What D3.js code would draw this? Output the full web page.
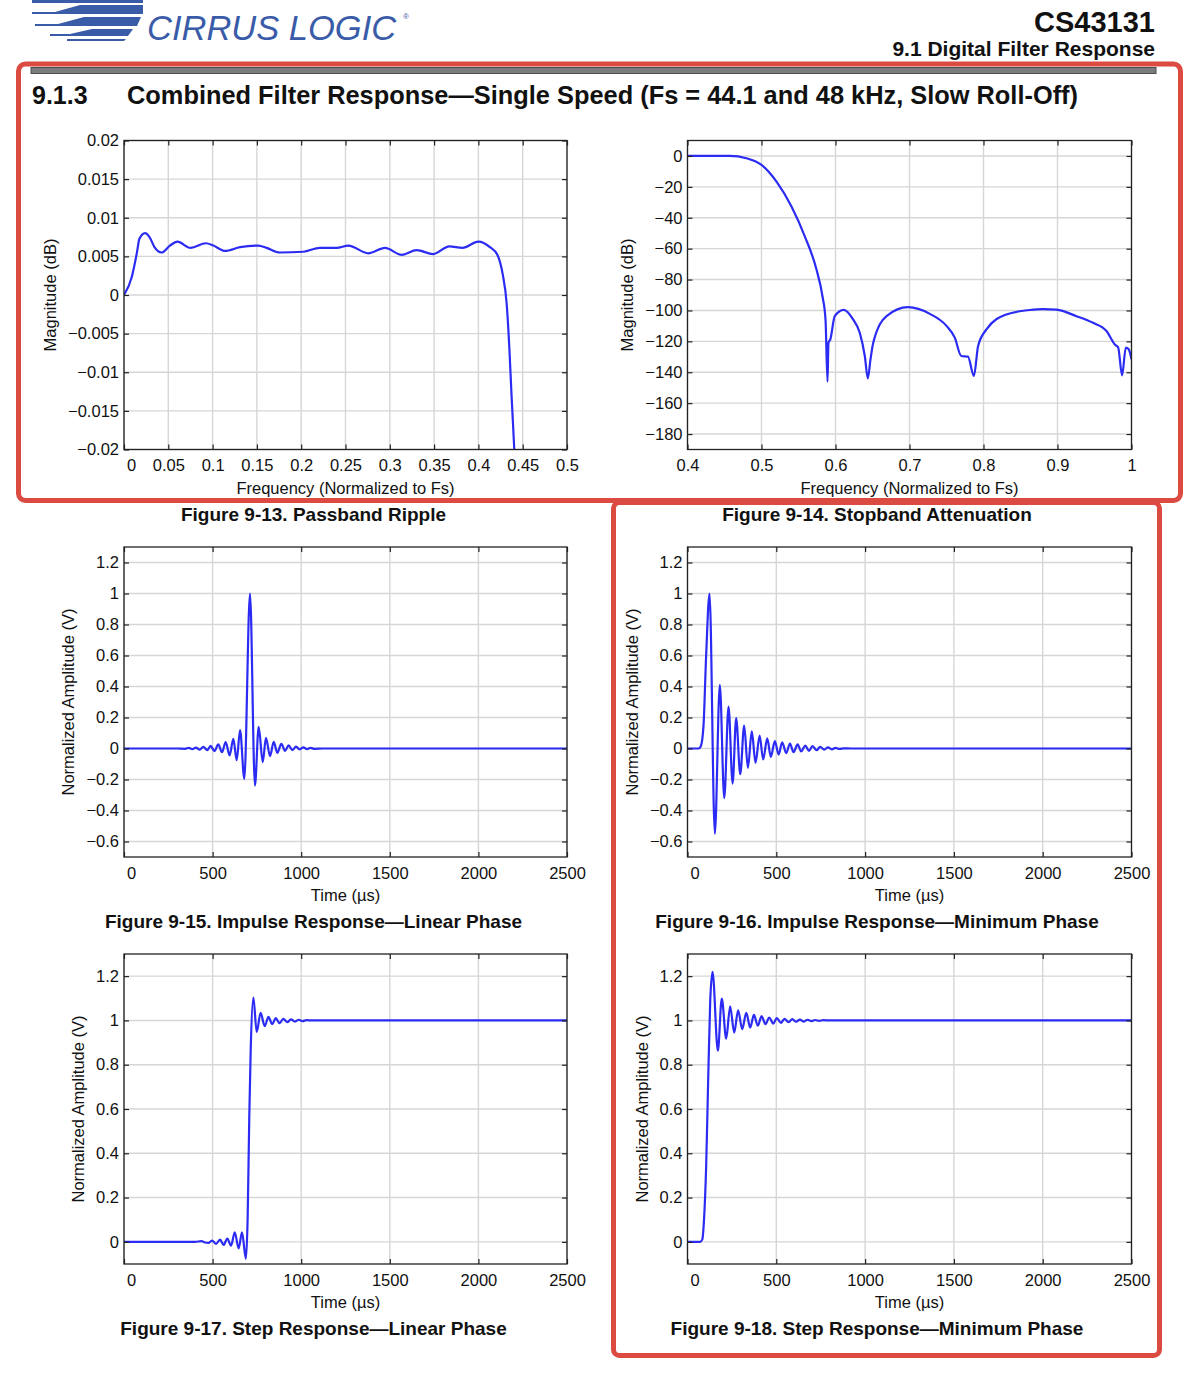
<!DOCTYPE html>
<html><head><meta charset="utf-8">
<script src="https://cdn.jsdelivr.net/npm/d3@7"></script>
<style>
html,body{margin:0;padding:0;background:#fff;}
svg{display:block;}
text{font-family:"Liberation Sans",Arial,Helvetica,sans-serif;fill:#111;}
</style></head><body>
<svg id="chart" width="1190" height="1377"></svg>
<script>
// ---------- DATA ----------
// Figure 9-13 Passband ripple
const passFreq = [0, 0.0087, 0.0143, 0.0175, 0.0237, 0.0288, 0.0344, 0.0425, 0.0519, 0.0602, 0.0752, 0.0925, 0.1008, 0.114, 0.131, 0.1516, 0.161, 0.176, 0.2024, 0.221, 0.240, 0.2532, 0.2757, 0.2946, 0.3134, 0.3303, 0.349, 0.3672, 0.382, 0.400, 0.413, 0.4214, 0.4274, 0.4319, 0.4349, 0.4375, 0.4405, 0.4420];
const passMag  = [0, 0.0023, 0.0053, 0.0073, 0.0080, 0.0075, 0.0062, 0.0055, 0.0064, 0.0069, 0.0061, 0.0067, 0.0064, 0.0057, 0.0062, 0.0064, 0.0061, 0.0055, 0.0056, 0.0061, 0.0061, 0.0064, 0.0054, 0.0061, 0.0052, 0.0058, 0.0053, 0.0063, 0.0061, 0.0069, 0.0062, 0.0052, 0.0027, -0.0011, -0.0068, -0.0132, -0.0200, -0.0240];
const passXTicks = [0, 0.05, 0.1, 0.15, 0.2, 0.25, 0.3, 0.35, 0.4, 0.45, 0.5];
const passXLabels = ["0", "0.05", "0.1", "0.15", "0.2", "0.25", "0.3", "0.35", "0.4", "0.45", "0.5"];
const passYTicks = [0.02, 0.015, 0.01, 0.005, 0, -0.005, -0.01, -0.015, -0.02];
const passYLabels = ["0.02", "0.015", "0.01", "0.005", "0", "\u22120.005", "\u22120.01", "\u22120.015", "\u22120.02"];

// Figure 9-14 Stopband attenuation
const stopFreq = [0.4, 0.43, 0.457, 0.4797, 0.5, 0.5203, 0.5405, 0.5585, 0.5743, 0.5824, 0.5865, 0.5892, 0.5905, 0.593, 0.599, 0.6112, 0.6238, 0.6328, 0.6396, 0.6437, 0.6473, 0.651, 0.669, 0.698, 0.7275, 0.75, 0.7612, 0.770, 0.779, 0.787, 0.7927, 0.804, 0.831, 0.8626, 0.88, 0.8986, 0.9257, 0.948, 0.9662, 0.9774, 0.982, 0.9873, 0.9923, 0.996, 1.0];
const stopMag  = [0, 0, 0, -1.5, -5.8, -16.6, -32.7, -52, -73.5, -90.8, -105.8, -146, -120.9, -118.7, -103.7, -99.6, -105.8, -114.4, -129.5, -144, -131.6, -120.9, -103.7, -97.9, -102.2, -110, -117.6, -129.5, -129.9, -142.4, -123, -112.3, -102.6, -99.7, -99.1, -99.5, -103.7, -108, -113.3, -122, -124, -142, -124, -125, -131.6];
const stopXTicks = [0.4, 0.5, 0.6, 0.7, 0.8, 0.9, 1];
const stopXLabels = ["0.4", "0.5", "0.6", "0.7", "0.8", "0.9", "1"];
const stopYTicks = [0, -20, -40, -60, -80, -100, -120, -140, -160, -180];
const stopYLabels = ["0", "\u221220", "\u221240", "\u221260", "\u221280", "\u2212100", "\u2212120", "\u2212140", "\u2212160", "\u2212180"];

// Figure 9-15 Impulse response, linear phase
const impLinTime = [0, 300, 345, 365, 386, 406, 427, 448, 470, 489, 510, 532, 553, 574, 596, 617, 636, 655, 679, 711, 739, 760, 783, 801, 824, 845, 865, 888, 909, 929, 950, 971, 991, 1012, 1033, 1053, 1075, 1120, 2500];
const impLinAmp  = [0, 0, -0.002, 0.004, -0.004, 0.006, -0.007, 0.01, -0.01, 0.017, -0.017, 0.026, -0.024, 0.041, -0.045, 0.062, -0.075, 0.118, -0.196, 1.0, -0.239, 0.14, -0.088, 0.069, -0.049, 0.043, -0.028, 0.03, -0.015, 0.02, -0.01, 0.012, -0.006, 0.007, -0.004, 0.004, -0.002, 0, 0];

// Figure 9-16 Impulse response, minimum phase
const impMinTime = [0, 62, 75, 90, 105, 124, 154, 182, 207, 231, 254, 274, 297, 319, 340, 362, 383, 406, 426, 449, 469, 492, 513, 533, 556, 577, 597, 620, 640, 663, 684, 704, 727, 747, 770, 791, 813, 834, 856, 880, 920, 2500];
const impMinAmp  = [0, 0, 0.015, 0.144, 0.6, 1.0, -0.55, 0.41, -0.32, 0.27, -0.226, 0.196, -0.166, 0.148, -0.125, 0.11, -0.092, 0.084, -0.071, 0.065, -0.054, 0.047, -0.039, 0.039, -0.03, 0.032, -0.024, 0.026, -0.019, 0.019, -0.015, 0.015, -0.011, 0.011, -0.007, 0.007, -0.005, 0.004, -0.003, 0.001, 0, 0];

const impXTicks = [0, 500, 1000, 1500, 2000, 2500];
const impXLabels = ["0", "500", "1000", "1500", "2000", "2500"];
const impYTicks = [1.2, 1, 0.8, 0.6, 0.4, 0.2, 0, -0.2, -0.4, -0.6];
const impYLabels = ["1.2", "1", "0.8", "0.6", "0.4", "0.2", "0", "\u22120.2", "\u22120.4", "\u22120.6"];

// Figure 9-17 Step response, linear phase
const stepLinTime = [0, 400, 438, 457, 476, 497, 519, 542, 562, 583, 604, 625, 647, 666, 688, 698, 707, 715, 730, 749, 771, 794, 815, 837, 856, 878, 899, 922, 942, 965, 986, 1008, 1030, 1060, 2500];
const stepLinAmp  = [0, 0, 0.003, -0.003, -0.005, 0.006, -0.009, 0.01, -0.014, 0.015, -0.017, 0.043, -0.03, 0.043, -0.077, 0.115, 0.566, 0.866, 1.103, 0.948, 1.034, 0.974, 1.016, 0.983, 1.010, 0.988, 1.007, 0.992, 1.005, 0.995, 1.003, 0.997, 1.001, 1.0, 1.0];

// Figure 9-18 Step response, minimum phase
const stepMinTime = [0, 71, 83, 94, 105, 116, 128, 141, 171, 193, 218, 240, 263, 285, 308, 331, 353, 374, 396, 417, 439, 460, 483, 503, 526, 546, 569, 590, 612, 633, 655, 676, 699, 719, 742, 765, 800, 2500];
const stepMinAmp  = [0, 0, 0.01, 0.115, 0.34, 0.716, 1.09, 1.219, 0.863, 1.099, 0.918, 1.064, 0.945, 1.046, 0.961, 1.034, 0.968, 1.025, 0.976, 1.019, 0.983, 1.013, 0.986, 1.01, 0.989, 1.007, 0.992, 1.006, 0.994, 1.004, 0.995, 1.003, 0.997, 1.002, 0.998, 1.001, 1.0, 1.0];

const stepYTicks = [1.2, 1, 0.8, 0.6, 0.4, 0.2, 0];
const stepYLabels = ["1.2", "1", "0.8", "0.6", "0.4", "0.2", "0"];

// ---------- DRAW ----------
const svg = d3.select("#chart");
svg.append("rect").attr("width", 1190).attr("height", 1377).attr("fill", "#fff");

const BLUE = "#2b2bf3";
const LOGO = "#3a5ca8";

// Logo stripes
const logo = svg.append("g").attr("fill", LOGO);
const stripes = [
  [[32,0],[143,0],[143,3],[32,3]],
  [[32,12],[55,12],[80,5],[143,5],[143,14],[32,14]],
  [[35,24],[58,24],[84,17],[141,17],[137,26],[35,26]],
  [[50,34],[70,34],[92,29],[133,29],[128,36],[50,36]],
  [[67,39],[126,39],[124,41],[67,41]]
];
logo.selectAll("polygon").data(stripes).join("polygon")
  .attr("points", d => d.map(p => p.join(",")).join(" "));
svg.append("text").attr("x", 147).attr("y", 40)
  .attr("font-size", 34.5).attr("font-style", "italic")
  .style("fill", LOGO).text("CIRRUS LOGIC");
svg.append("text").attr("x", 403).attr("y", 19).attr("font-size", 8).style("fill", LOGO).text("\u00AE");

svg.append("text").attr("x", 1155).attr("y", 32).attr("text-anchor", "end")
  .attr("font-size", 29).attr("font-weight", "bold").text("CS43131");
svg.append("text").attr("x", 1155).attr("y", 56).attr("text-anchor", "end")
  .attr("font-size", 21).attr("font-weight", "bold").text("9.1 Digital Filter Response");

// gray bar
svg.append("rect").attr("x", 31).attr("y", 67.5).attr("width", 1125).attr("height", 6)
  .attr("fill", "#7c7c7c").attr("stroke", "#4d4d4d").attr("stroke-width", 1);

svg.append("text").attr("x", 32).attr("y", 104).attr("font-size", 25).attr("font-weight", "bold").text("9.1.3");
svg.append("text").attr("x", 127).attr("y", 104).attr("font-size", 25).attr("font-weight", "bold")
  .attr("textLength", 951).attr("lengthAdjust", "spacingAndGlyphs")
  .text("Combined Filter Response\u2014Single Speed (Fs = 44.1 and 48 kHz, Slow Roll-Off)");

let clipId = 0;
function panel(cfg) {
  const x = d3.scaleLinear().domain(cfg.xDomain).range([cfg.left, cfg.left + cfg.width]);
  const y = d3.scaleLinear().domain(cfg.yDomain).range([cfg.top + cfg.height, cfg.top]);
  const g = svg.append("g");
  const L = cfg.left, T = cfg.top, W = cfg.width, H = cfg.height;

  // grid
  g.append("g").selectAll("line").data(cfg.xTicks).join("line")
    .attr("x1", d => x(d)).attr("x2", d => x(d)).attr("y1", T).attr("y2", T + H)
    .attr("stroke", "#d6d6d6").attr("stroke-width", 1.4);
  g.append("g").selectAll("line").data(cfg.yTicks).join("line")
    .attr("y1", d => y(d)).attr("y2", d => y(d)).attr("x1", L).attr("x2", L + W)
    .attr("stroke", "#d6d6d6").attr("stroke-width", 1.4);

  // curve
  const id = "clip" + (clipId++);
  g.append("clipPath").attr("id", id).append("rect")
    .attr("x", L).attr("y", T).attr("width", W).attr("height", H);
  const line = d3.line()
    .x((d, i) => x(cfg.xData[i]))
    .y((d, i) => y(cfg.yData[i]))
    .curve(d3.curveMonotoneX);
  g.append("path").attr("clip-path", `url(#${id})`)
    .attr("d", line(cfg.xData))
    .attr("fill", "none").attr("stroke", BLUE).attr("stroke-width", 2.2)
    .attr("stroke-linejoin", "round");

  // axes
  const styleAxis = sel => {
    sel.attr("font-size", null).attr("font-family", null);
    sel.select(".domain").remove();
    sel.selectAll(".tick line").attr("stroke", "#222").attr("stroke-width", 1.2);
    sel.selectAll("text").attr("font-size", 16.5).style("fill", "#111");
  };
  const fmt = labels => (d, i) => labels[i];
  g.append("g").attr("transform", `translate(0,${T + H})`)
    .call(d3.axisBottom(x).tickValues(cfg.xTicks).tickFormat(fmt(cfg.xLabels))
      .tickSizeInner(-5).tickSizeOuter(0).tickPadding(10))
    .call(styleAxis)
    .call(s => s.selectAll(".tick text").attr("dx", d => d === cfg.xDomain[0] ? cfg.zeroShift : 0));
  g.append("g").attr("transform", `translate(0,${T})`)
    .call(d3.axisTop(x).tickValues(cfg.xTicks).tickFormat("").tickSizeInner(-5).tickSizeOuter(0))
    .call(styleAxis);
  g.append("g").attr("transform", `translate(${L},0)`)
    .call(d3.axisLeft(y).tickValues(cfg.yTicks).tickFormat(fmt(cfg.yLabels))
      .tickSizeInner(-5).tickSizeOuter(0).tickPadding(5))
    .call(styleAxis);
  g.append("g").attr("transform", `translate(${L + W},0)`)
    .call(d3.axisRight(y).tickValues(cfg.yTicks).tickFormat("").tickSizeInner(-5).tickSizeOuter(0))
    .call(styleAxis);

  // box
  g.append("rect").attr("x", L).attr("y", T).attr("width", W).attr("height", H)
    .attr("fill", "none").attr("stroke", "#222").attr("stroke-width", 1.3);

  // titles
  g.append("text").attr("x", L + W / 2).attr("y", T + H + 44).attr("text-anchor", "middle")
    .attr("font-size", 16.5).text(cfg.xTitle);
  g.append("text").attr("transform", `translate(${cfg.yTitleX},${T + H / 2}) rotate(-90)`)
    .attr("text-anchor", "middle").attr("font-size", 16.5).text(cfg.yTitle);
  g.append("text").attr("x", cfg.capX).attr("y", T + H + 71).attr("text-anchor", "middle")
    .attr("font-size", 19).attr("font-weight", "bold").text(cfg.caption);
}

const colL = {left: 124, width: 443, capX: 313.5};
const colR = {left: 687.5, width: 444, capX: 877};
const row1 = {top: 140.5, height: 309};
const row2 = {top: 547, height: 310};
const row3 = {top: 954, height: 310};

panel({...colL, ...row1, xDomain: [0, 0.5], yDomain: [-0.02, 0.02],
  xTicks: passXTicks, xLabels: passXLabels, yTicks: passYTicks, yLabels: passYLabels,
  xData: passFreq, yData: passMag, xTitle: "Frequency (Normalized to Fs)", yTitle: "Magnitude (dB)",
  yTitleX: 56, caption: "Figure 9-13. Passband Ripple", zeroShift: 7});

panel({...colR, ...row1, xDomain: [0.4, 1], yDomain: [-190, 10],
  xTicks: stopXTicks, xLabels: stopXLabels, yTicks: stopYTicks, yLabels: stopYLabels,
  xData: stopFreq, yData: stopMag, xTitle: "Frequency (Normalized to Fs)", yTitle: "Magnitude (dB)",
  yTitleX: 633, caption: "Figure 9-14. Stopband Attenuation", zeroShift: 0});

panel({...colL, ...row2, xDomain: [0, 2500], yDomain: [-0.7, 1.3],
  xTicks: impXTicks, xLabels: impXLabels, yTicks: impYTicks, yLabels: impYLabels,
  xData: impLinTime, yData: impLinAmp, xTitle: "Time (\u00B5s)", yTitle: "Normalized Amplitude (V)",
  yTitleX: 74, caption: "Figure 9-15. Impulse Response\u2014Linear Phase", zeroShift: 7});

panel({...colR, ...row2, xDomain: [0, 2500], yDomain: [-0.7, 1.3],
  xTicks: impXTicks, xLabels: impXLabels, yTicks: impYTicks, yLabels: impYLabels,
  xData: impMinTime, yData: impMinAmp, xTitle: "Time (\u00B5s)", yTitle: "Normalized Amplitude (V)",
  yTitleX: 638, caption: "Figure 9-16. Impulse Response\u2014Minimum Phase", zeroShift: 7});

panel({...colL, ...row3, xDomain: [0, 2500], yDomain: [-0.1, 1.3],
  xTicks: impXTicks, xLabels: impXLabels, yTicks: stepYTicks, yLabels: stepYLabels,
  xData: stepLinTime, yData: stepLinAmp, xTitle: "Time (\u00B5s)", yTitle: "Normalized Amplitude (V)",
  yTitleX: 84, caption: "Figure 9-17. Step Response\u2014Linear Phase", zeroShift: 7});

panel({...colR, ...row3, xDomain: [0, 2500], yDomain: [-0.1, 1.3],
  xTicks: impXTicks, xLabels: impXLabels, yTicks: stepYTicks, yLabels: stepYLabels,
  xData: stepMinTime, yData: stepMinAmp, xTitle: "Time (\u00B5s)", yTitle: "Normalized Amplitude (V)",
  yTitleX: 648, caption: "Figure 9-18. Step Response\u2014Minimum Phase", zeroShift: 7});

// red highlight boxes
const RED = "#dc4b42";
svg.append("rect").attr("x", 18.5).attr("y", 64).attr("width", 1162).attr("height", 436.5)
  .attr("rx", 7).attr("fill", "none").attr("stroke", RED).attr("stroke-width", 5);
svg.append("rect").attr("x", 613.5).attr("y", 502.5).attr("width", 546).attr("height", 853)
  .attr("rx", 6).attr("fill", "none").attr("stroke", RED).attr("stroke-width", 5);
</script>
</body></html>
